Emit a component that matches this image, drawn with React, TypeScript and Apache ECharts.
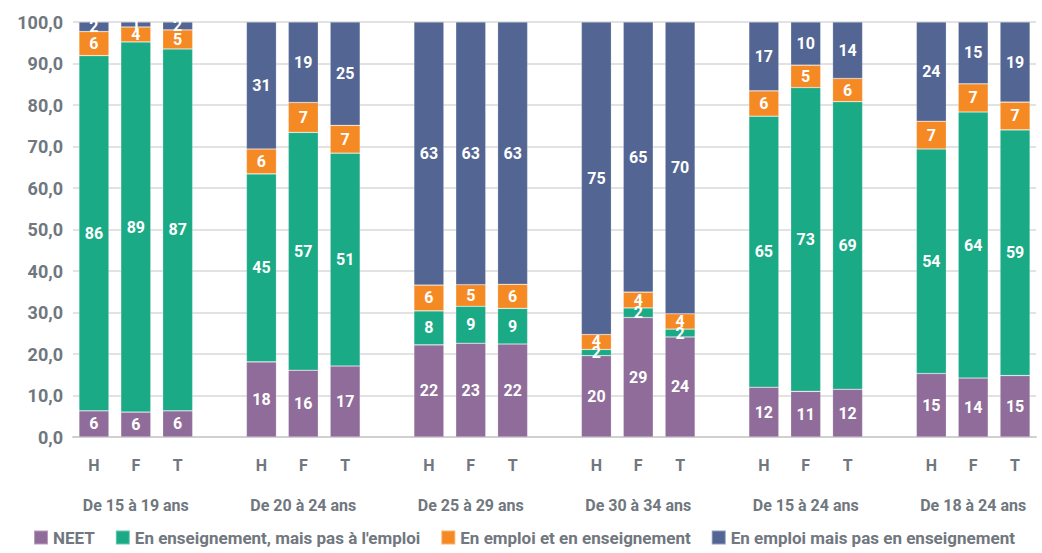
import React, { useEffect, useRef } from "react";
import * as echarts from "echarts";

const groups = ["De 15 à 19 ans", "De 20 à 24 ans", "De 25 à 29 ans", "De 30 à 34 ans", "De 15 à 24 ans", "De 18 à 24 ans"];
const sexes = ["H", "F", "T"];
const seriesNames = [
  "NEET",
  "En enseignement, mais pas à l'emploi",
  "En emploi et en enseignement",
  "En emploi mais pas en enseignement",
];
const colors = ["#8F6C99", "#1BAA86", "#F58A25", "#536593"];

// per group: H, F, T
const neet = [6.3, 6.0, 6.3, 18.1, 16.1, 17.1, 22.2, 22.6, 22.4, 19.6, 28.8, 24.1, 12.0, 11.0, 11.5, 15.3, 14.2, 14.8];
const ensNoEmp = [85.6, 89.2, 87.2, 45.3, 57.3, 51.3, 8.2, 8.9, 8.6, 1.5, 2.3, 1.9, 65.3, 73.2, 69.3, 54.1, 64.1, 59.2];
const empEns = [5.8, 3.6, 4.6, 6.0, 7.2, 6.7, 6.2, 5.2, 5.8, 3.6, 3.8, 3.7, 6.1, 5.4, 5.6, 6.7, 6.8, 6.7];
const empNoEns = [2.3, 1.2, 1.9, 30.6, 19.4, 24.9, 63.4, 63.3, 63.2, 75.3, 65.1, 70.3, 16.6, 10.4, 13.6, 23.9, 14.9, 19.3];
const yTicks = [0, 10, 20, 30, 40, 50, 60, 70, 80, 90, 100];

const FONT = "Roboto, 'Liberation Sans', sans-serif";
const GRAY = "#70777e";

export default function App() {
  const ref = useRef<HTMLDivElement>(null);
  useEffect(() => {
    if (!ref.current) return;
    const chart = echarts.init(ref.current, undefined, { renderer: "svg" });
    const cats: string[] = [];
    const groupCats: string[] = [];
    const idx: number[] = [];
    groups.forEach((g, gi) => {
      sexes.forEach((s, si) => {
        cats.push(s);
        groupCats.push(si === 1 ? g : "");
        idx.push(gi * 3 + si);
      });
      if (gi < groups.length - 1) {
        cats.push("");
        groupCats.push("");
        idx.push(-1);
      }
    });
    const all = [neet, ensNoEmp, empEns, empNoEns];
    const series = all.map((arr, k) => ({
      name: seriesNames[k],
      type: "bar",
      stack: "total",
      barWidth: 30,
      itemStyle: { color: colors[k], borderColor: "rgba(255,255,255,0.35)", borderWidth: 0.6 },
      label: {
        show: true,
        position: "inside",
        color: "#fff",
        fontFamily: FONT,
        fontWeight: "bold",
        fontSize: 16,
        formatter: (p: any) => String(Math.round(p.value)),
      },
      data: idx.map((i) => (i < 0 ? "-" : arr[i])),
    }));
    chart.setOption({
      animation: false,
      textStyle: { fontFamily: FONT },
      grid: { left: 73, right: 6, top: 22, bottom: 116, containLabel: false },
      legend: {
        left: 28,
        bottom: 2,
        width: 1030,
        itemWidth: 14,
        itemHeight: 14,
        itemGap: 20,
        icon: "rect",
        textStyle: { color: GRAY, fontFamily: FONT, fontWeight: "bold", fontSize: 17 },
        data: seriesNames,
      },
      xAxis: [
        {
          type: "category",
          data: cats,
          axisLine: { lineStyle: { color: "#d0d0d0", width: 2 } },
          axisTick: { show: false },
          axisLabel: { interval: 0, margin: 20, color: GRAY, fontWeight: "bold", fontSize: 16, fontFamily: FONT },
        },
        {
          type: "category",
          position: "bottom",
          data: groupCats,
          axisLine: { show: false },
          axisTick: { show: false },
          axisLabel: { interval: 0, margin: 60, color: GRAY, fontWeight: "bold", fontSize: 16, fontFamily: FONT },
        },
      ],
      yAxis: {
        type: "value",
        min: yTicks[0],
        max: yTicks[yTicks.length - 1],
        interval: 10,
        axisLine: { show: false },
        axisTick: { show: false },
        splitLine: { lineStyle: { color: "#d9d9d9", width: 1.5 } },
        axisLabel: {
          margin: 10,
          color: GRAY,
          fontWeight: "bold",
          fontSize: 18,
          fontFamily: FONT,
          formatter: (v: number) => v.toFixed(1).replace(".", ","),
        },
      },
      series,
    });
    return () => chart.dispose();
  }, []);
  return <div ref={ref} style={{ position: "fixed", left: 0, top: 0, width: 1042, height: 553, background: "#fff" }} />;
}
